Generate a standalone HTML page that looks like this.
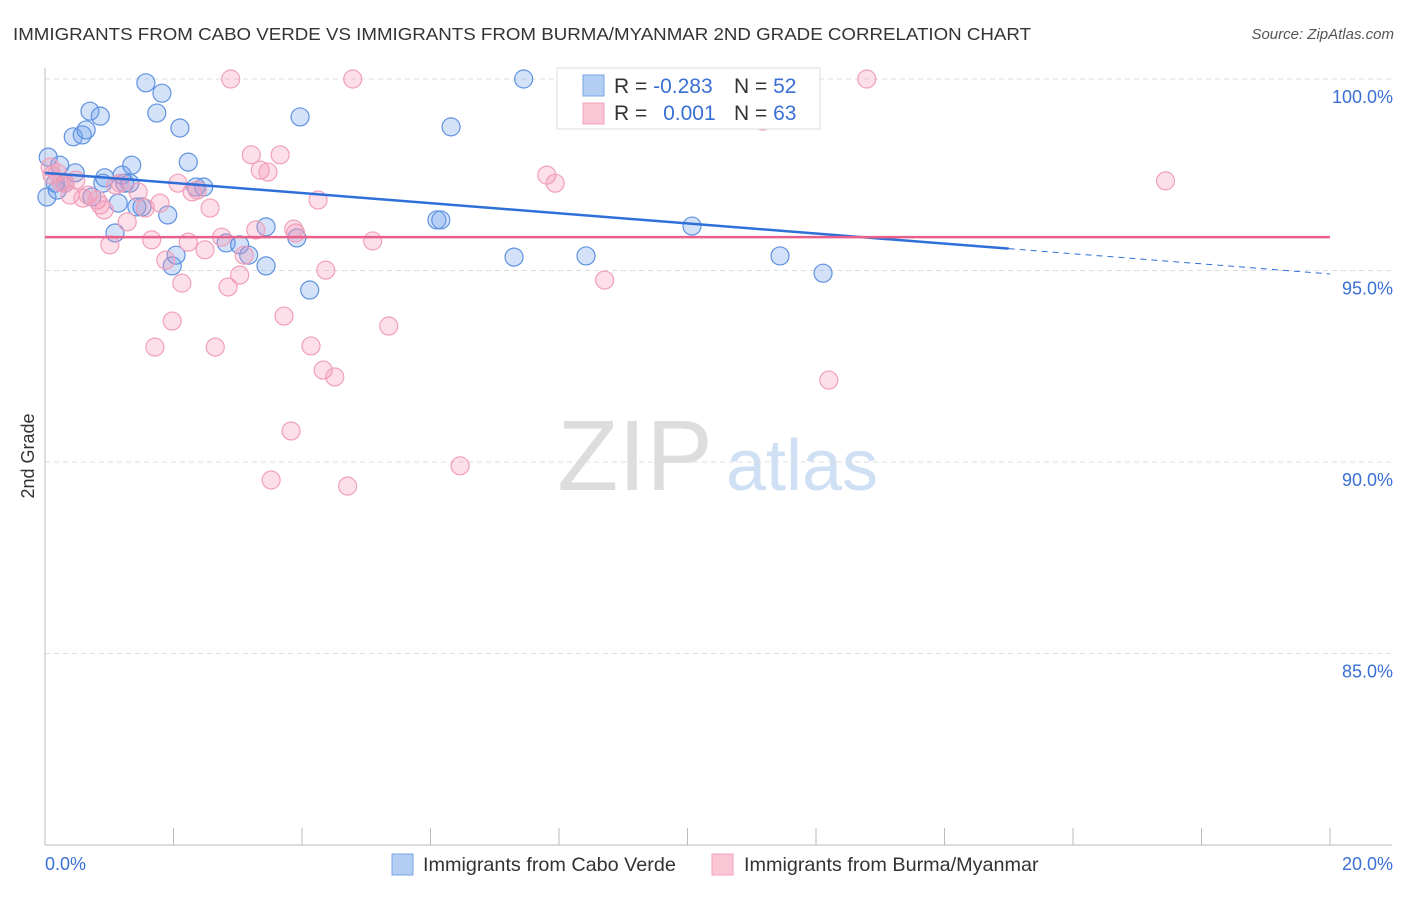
<!DOCTYPE html>
<html><head><meta charset="utf-8"><style>
body{margin:0;background:#fff;font-family:"Liberation Sans",sans-serif;}
svg text{font-family:"Liberation Sans",sans-serif;}
</style></head><body>
<svg id="chart" width="1406" height="892" xmlns="http://www.w3.org/2000/svg">
<text x="13" y="40" font-size="17.5" fill="#333" textLength="1018" lengthAdjust="spacingAndGlyphs">IMMIGRANTS FROM CABO VERDE VS IMMIGRANTS FROM BURMA/MYANMAR 2ND GRADE CORRELATION CHART</text>
<text x="1394" y="39" font-size="15" fill="#555" font-style="italic" text-anchor="end">Source: ZipAtlas.com</text>
<g>
<text x="635" y="490" font-size="100" fill="#ddd" font-family="Liberation Serif, serif" text-anchor="middle">ZIP</text>
<text x="802" y="490" font-size="72" fill="#cfe0f5" text-anchor="middle">atlas</text>
</g>
<g id="grid"></g>
<g id="axes"></g>
<g id="points"></g>
<g id="trends"></g>
<text transform="translate(34,456) rotate(-90)" font-size="18" fill="#333" text-anchor="middle">2nd Grade</text>
<g>
<rect x="557" y="68" width="263" height="61" fill="#fff" stroke="#ddd"/>
<rect x="583" y="75" width="21" height="21" fill="#b3cdf3" stroke="#7aa5e6"/>
<rect x="583" y="103" width="21" height="21" fill="#fac5d5" stroke="#f0a3bb"/>
<text x="614" y="93" font-size="21" fill="#333">R = <tspan fill="#3a6fd4">-0.283</tspan></text>
<text x="734" y="93" font-size="21" fill="#333">N = <tspan fill="#3a6fd4">52</tspan></text>
<text x="614" y="120" font-size="21" fill="#333">R = <tspan fill="#3a6fd4" dx="10">0.001</tspan></text>
<text x="734" y="120" font-size="21" fill="#333">N = <tspan fill="#3a6fd4">63</tspan></text>
</g>
<g>
<rect x="392" y="854" width="21" height="21" fill="#b3cdf3" stroke="#7aa5e6"/>
<text x="423" y="871" font-size="19.8" fill="#333">Immigrants from Cabo Verde</text>
<rect x="712" y="854" width="21" height="21" fill="#fac5d5" stroke="#f0a3bb"/>
<text x="744" y="871" font-size="19.8" fill="#333">Immigrants from Burma/Myanmar</text>
</g>
</svg>
<script>
const blueX=[.05,.03,.16,.23,.19,.31,.47,.44,.58,.64,.70,.86,.73,.90,.93,1.09,1.14,1.20,1.24,1.32,1.35,1.43,1.51,1.57,1.74,1.82,1.91,1.98,2.04,2.10,2.23,2.35,2.47,2.82,3.03,3.17,3.44,3.44,3.92,3.97,4.12,6.10,6.16,6.32,7.30,7.45,8.42,8.64,10.07,11.44,12.11,8.64];
const blueY=[97.96,96.92,97.28,97.75,97.10,97.28,97.55,98.49,98.54,98.67,99.16,99.03,96.92,97.28,97.42,95.98,96.76,97.49,97.28,97.28,97.75,96.66,96.66,99.90,99.11,99.63,96.45,95.12,95.40,98.72,97.83,97.18,97.18,95.72,95.67,95.40,95.12,96.14,95.85,99.01,94.49,96.32,96.32,98.75,95.35,100.0,95.38,100.0,96.16,95.38,94.93,99.95];
const pinkX=[.08,.11,.19,.31,.39,.48,.59,.67,.81,.86,.92,1.01,1.10,1.17,1.28,1.45,1.56,1.66,1.71,1.79,1.88,1.98,2.07,2.13,2.23,2.29,2.37,2.49,2.57,2.65,2.75,2.85,2.89,3.03,3.10,3.21,3.28,3.35,3.47,3.52,3.66,3.72,3.83,3.87,4.14,4.25,4.33,4.37,4.51,4.71,4.79,5.10,5.35,6.46,7.81,7.94,8.71,11.17,12.20,12.79,17.44,3.90,0.25];
const pinkY=[97.70,97.49,97.55,97.28,96.97,97.36,96.89,96.97,96.84,96.71,96.58,95.67,97.23,97.28,96.27,97.05,96.63,95.80,93.00,96.76,95.27,93.68,97.28,94.67,95.74,97.05,97.10,95.54,96.63,93.00,95.87,94.57,100.0,94.88,95.40,98.02,96.06,97.62,97.57,89.53,98.02,93.81,90.81,96.08,93.03,96.84,92.40,95.01,92.22,89.37,100.0,95.77,93.55,89.90,97.49,97.28,94.75,98.90,92.14,100.0,97.34,95.98,97.30];
const yTicks=[100,95,90,85];
const yTickLabels=["100.0%","95.0%","90.0%","85.0%"];
const blueTrend=[97.55,94.91];
const pinkTrend=[95.87,95.87];
const NS="http://www.w3.org/2000/svg";
const X=v=>45+v/20*1285, Y=v=>79+(100-v)*38.3;
function mk(tag,attrs,parent){const e=document.createElementNS(NS,tag);for(const k in attrs)e.setAttribute(k,attrs[k]);document.getElementById(parent).appendChild(e);return e;}
yTicks.forEach((t,i)=>{
 const g=mk('line',{x1:45,x2:1392,y1:Y(t),y2:Y(t),stroke:'#ddd','stroke-dasharray':'5,4'},'grid');
 
 
 const l=mk('text',{x:1393,y:Y(t)+24,'font-size':18,fill:'#3a6fd4','text-anchor':'end'},'axes');
 l.textContent=yTickLabels[i];
 
 
});
const ax=mk('line',{x1:45,x2:45,y1:68,y2:845,stroke:'#bbb'},'axes');


const bx=mk('line',{x1:45,x2:1392,y1:845,y2:845,stroke:'#bbb'},'axes');


for(let i=0;i<=10;i++){const t=mk('line',{x1:X(i*2),x2:X(i*2),y1:828,y2:845,stroke:'#bbb'},'axes');
 
 }
[["0.0%",45,"start"],["20.0%",1393,"end"]].forEach(a=>{const t=mk('text',{x:a[1],y:870,'font-size':18,fill:'#3a6fd4','text-anchor':a[2]},'axes');t.textContent=a[0];
 
 });
blueX.forEach((x,i)=>{const c=mk('circle',{cx:X(x),cy:Y(blueY[i]),r:9,fill:'rgba(110,160,235,0.3)',stroke:'#5f92e0','stroke-width':1.2},'points');
 
 });
pinkX.forEach((x,i)=>{const c=mk('circle',{cx:X(x),cy:Y(pinkY[i]),r:9,fill:'rgba(245,150,180,0.3)',stroke:'#f0a0bb','stroke-width':1.2},'points');
 
 });
const bEnd=15;const bv=t=>blueTrend[0]+(blueTrend[1]-blueTrend[0])*t/20;
const t1=mk('line',{x1:X(0),y1:Y(bv(0)),x2:X(bEnd),y2:Y(bv(bEnd)),stroke:'#2e6fd8','stroke-width':2.5},'trends');


const t2=mk('line',{x1:X(bEnd),y1:Y(bv(bEnd)),x2:X(20),y2:Y(bv(20)),stroke:'#2e6fd8','stroke-width':1,'stroke-dasharray':'6,5'},'trends');


const t3=mk('line',{x1:X(0),y1:Y(pinkTrend[0]),x2:X(20),y2:Y(pinkTrend[1]),stroke:'#e8608a','stroke-width':2.5},'trends');


</script>
</body></html>
